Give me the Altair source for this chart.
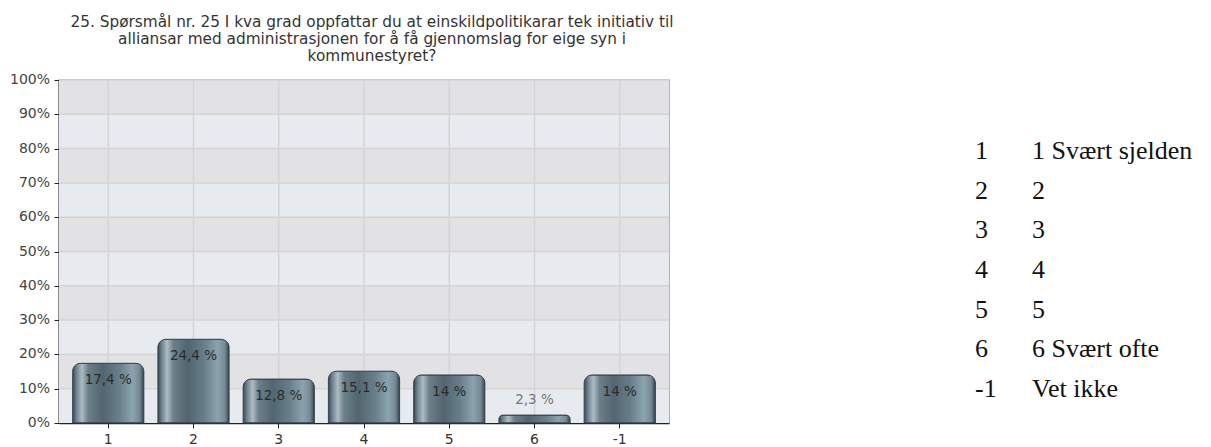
import altair as alt
import pandas as pd

# ---- data ----
categories = ["1", "2", "3", "4", "5", "6", "-1"]
values = [17.4, 24.4, 12.8, 15.1, 14.0, 2.3, 14.0]
legend_codes = ["1", "2", "3", "4", "5", "6", "-1"]
legend_texts = ["1 Svært sjelden", "2", "3", "4", "5", "6 Svært ofte", "Vet ikke"]
band_lo = [0.0, 0.1, 0.2, 0.3, 0.4, 0.5, 0.6, 0.7, 0.8, 0.9]
band_hi = [0.1, 0.2, 0.3, 0.4, 0.5, 0.6, 0.7, 0.8, 0.9, 1.0]
band_kind = ["a", "b", "a", "b", "a", "b", "a", "b", "a", "b"]
y_ticks = [0.0, 0.1, 0.2, 0.3, 0.4, 0.5, 0.6, 0.7, 0.8, 0.9, 1.0]
y_tick_labels = ["0%", "10%", "20%", "30%", "40%", "50%", "60%", "70%", "80%", "90%", "100%"]
title_lines = [
    "25. Spørsmål nr. 25 I kva grad oppfattar du at einskildpolitikarar tek initiativ til",
    "alliansar med administrasjonen for å få gjennomslag for eige syn i",
    "kommunestyret?",
]


def fmt(v):
    s = f"{v:.1f}".replace(".", ",")
    if s.endswith(",0"):
        s = s[:-2]
    return s + " %"


df = pd.DataFrame({
    "kat": categories,
    "andel": [v / 100 for v in values],
    "etikett": [fmt(v) for v in values],
})
bands = pd.DataFrame({"lo": band_lo, "hi": band_hi, "kind": band_kind})
ticks_df = pd.DataFrame({"v": y_ticks, "txt": y_tick_labels})

W, H = 610, 343
FONT = "DejaVu Sans"
GRID = "#d4d4d4"

x_scale = alt.Scale(domain=categories, paddingInner=0.165, paddingOuter=0.16)
y_scale = alt.Scale(domain=[0, 1], nice=False, zero=True)

x_axis = alt.Axis(title=None, labelAngle=0, labelFont=FONT, labelFontSize=14,
                  labelColor="#333", tickColor="#222", tickSize=5,
                  domainColor="#222", domainWidth=1.5, grid=False,
                  bandPosition=0.5, labelPadding=4)
y_axis = alt.Axis(title=None, values=y_ticks, labels=False,
                  tickColor="#222", tickSize=5, domainColor="#222",
                  domainWidth=1.5, grid=False)

bg = alt.Chart(bands).mark_rect().encode(
    y=alt.Y("lo:Q", scale=y_scale, axis=y_axis),
    y2="hi:Q",
    color=alt.Color("kind:N", scale=alt.Scale(domain=["a", "b"], range=["#e7ebef", "#e2e2e4"]), legend=None),
)

hgrid = alt.Chart(bands).mark_rule(color=GRID, strokeWidth=1.5).encode(
    y=alt.Y("hi:Q", scale=y_scale, axis=y_axis),
)

vgrid = alt.Chart(df).mark_rule(color=GRID, strokeWidth=1.5).encode(
    x=alt.X("kat:N", scale=x_scale, axis=x_axis),
)

ylabels = alt.Chart(ticks_df).mark_text(
    align="right", baseline="middle", dx=-9, font=FONT, fontSize=14, color="#444",
).encode(
    x=alt.value(0),
    y=alt.Y("v:Q", scale=y_scale, axis=y_axis),
    text="txt:N",
)

grad = alt.Gradient(
    gradient="linear", x1=0, x2=1, y1=0, y2=0,
    stops=[
        alt.GradientStop(offset=0.0, color="#3a4850"),
        alt.GradientStop(offset=0.05, color="#6a808b"),
        alt.GradientStop(offset=0.13, color="#adbcc4"),
        alt.GradientStop(offset=0.22, color="#6a7f89"),
        alt.GradientStop(offset=0.42, color="#52666f"),
        alt.GradientStop(offset=0.64, color="#667d88"),
        alt.GradientStop(offset=0.84, color="#8ca2ac"),
        alt.GradientStop(offset=0.94, color="#748a94"),
        alt.GradientStop(offset=1.0, color="#37444b"),
    ],
)

bars = alt.Chart(df).mark_bar(
    color=grad, stroke="#34424a", strokeWidth=1,
    cornerRadiusTopLeft=8, cornerRadiusTopRight=8,
).encode(
    x=alt.X("kat:N", scale=x_scale, axis=x_axis),
    y=alt.Y("andel:Q", scale=y_scale, axis=y_axis),
)

lab_in = alt.Chart(df).transform_filter("datum.andel >= 0.05").mark_text(
    baseline="middle", dy=17, font=FONT, fontSize=13.5, color="#2b2b2b",
).encode(x=alt.X("kat:N", scale=x_scale, axis=x_axis),
         y=alt.Y("andel:Q", scale=y_scale, axis=y_axis), text="etikett:N")

lab_out = alt.Chart(df).transform_filter("datum.andel < 0.05").mark_text(
    baseline="middle", dy=-15, font=FONT, fontSize=13.5, color="#777",
).encode(x=alt.X("kat:N", scale=x_scale, axis=x_axis),
         y=alt.Y("andel:Q", scale=y_scale, axis=y_axis), text="etikett:N")

plot = alt.layer(bg, hgrid, vgrid, bars, lab_in, lab_out, ylabels).properties(
    width=W, height=H,
    title=alt.TitleParams(text=title_lines, font=FONT, fontSize=15.3, fontWeight="normal",
                          color="#333", lineHeight=17, anchor="middle", offset=9, dx=8),
    view=alt.ViewBackground(stroke="#9a9a9a", strokeWidth=1.5),
)

leg_rows = []
for c, t in zip(legend_codes, legend_texts):
    leg_rows.append({"rad": c, "kol": "kode", "tekst": c})
    leg_rows.append({"rad": c, "kol": "tekst", "tekst": t})
leg_df = pd.DataFrame(leg_rows)

legend = alt.Chart(leg_df).mark_text(
    align="left", baseline="middle", font="Liberation Serif", fontSize=26, color="#111",
).encode(
    x=alt.X("kol:N", scale=alt.Scale(domain=["kode", "tekst"], range=[0, 57], padding=0), axis=None),
    y=alt.Y("rad:N", sort=legend_codes,
            scale=alt.Scale(domain=legend_codes, range=[71, 309], padding=0), axis=None),
    text="tekst:N",
).properties(width=180, height=H, view=alt.ViewBackground(stroke=None))

chart = alt.hconcat(plot, legend, spacing=300).properties(
    padding={"left": 1, "top": 5, "right": 0, "bottom": 0}
).configure(background="white")

chart.save("out.html", embed_options={"renderer": "svg", "actions": False})
